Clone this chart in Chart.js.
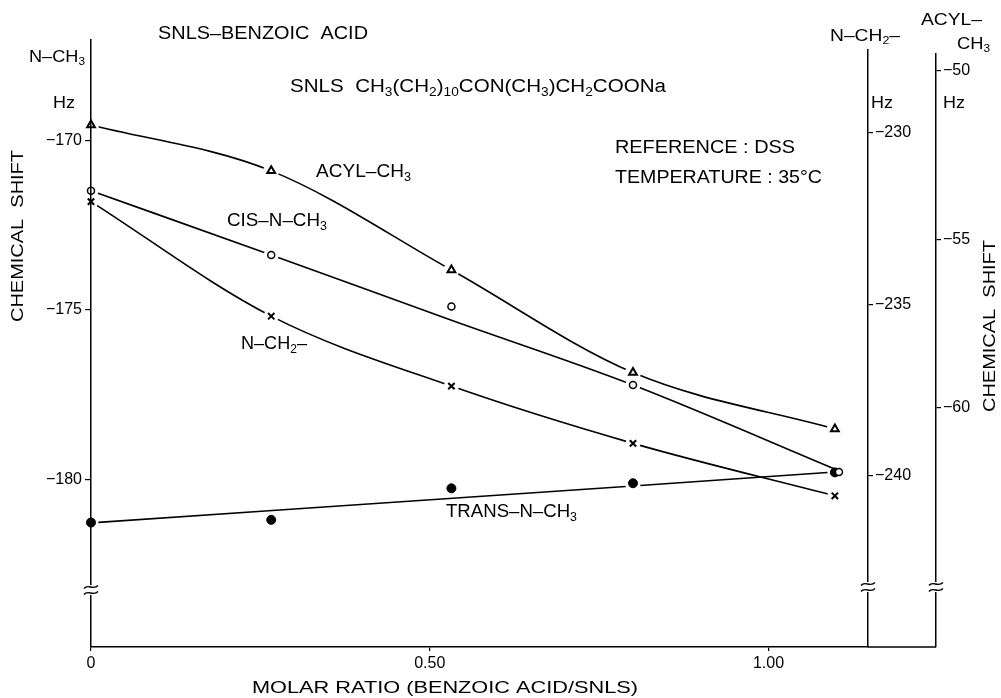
<!DOCTYPE html>
<html><head><meta charset="utf-8">
<script src="https://cdn.jsdelivr.net/npm/chart.js@4.4.0/dist/chart.umd.min.js"></script>
<style>html,body{margin:0;padding:0;background:#fff;}</style>
</head><body>
<canvas id="c" width="1001" height="698"></canvas>
<script>
// ---- data ----
const molarRatio = [0, 0.266, 0.532, 0.800, 1.098];
const cisX = [0, 0.266, 0.532, 0.800, 1.104];
const acylCH3 = [-51.61, -52.97, -55.91, -58.95, -60.62];      // ACYL-CH3 axis (Hz)
const cisNCH3 = [-171.48, -173.38, -174.90, -177.21, -179.78];  // N-CH3 axis (Hz)
const cisNCH3Curve = [-171.48, -173.38, -175.30, -177.21, -179.74];
const nCH2 = [-232.01, -235.35, -237.39, -239.06, -240.59];     // N-CH2 axis (Hz)
const transNCH3 = [-181.27, -181.19, -180.26, -180.11, -179.79];// N-CH3 axis (Hz)
const transLineX = [0, 0.800, 1.098];
const transLineY = [-181.28, -180.19, -179.78];
const xTicks = [0, 0.5, 1.0];
const nch3Ticks = [-170, -175, -180];
const nch2Ticks = [-230, -235, -240];
const acylTicks = [-50, -55, -60];

const pts = (xs, ys) => xs.map((x, i) => ({x: x, y: ys[i]}));
const FONT = '"Liberation Sans", Arial, sans-serif';
const fmtNeg = v => '\u2212' + Math.abs(v);

// line dataset; its own white points cut the small gaps round the markers
function lineDS(data, axis, gap) {
  return {data, yAxisID: axis, showLine: true, borderColor: '#000', borderWidth: 1.6,
    cubicInterpolationMode: 'monotone', order: 3, clip: false,
    pointRadius: gap, pointBackgroundColor: '#fff', pointBorderWidth: 0, pointBorderColor: '#fff'};
}
function markDS(data, axis, style, r, bw, fill) {
  return {data, yAxisID: axis, showLine: false, pointStyle: style, pointRadius: r,
    pointBorderWidth: bw, pointBorderColor: '#000', pointBackgroundColor: fill, order: 1, clip: false};
}

function rich(ctx, x, y, parts, size, align, targetW) {
  const big = size + 'px ' + FONT, small = Math.round(size * 0.64) + 'px ' + FONT;
  let w = 0;
  parts.forEach(p => { ctx.font = p[1] ? small : big; w += ctx.measureText(p[0]).width; });
  const sx = targetW ? targetW / w : 1;
  const tw = w * sx;
  const x0 = align === 'center' ? x - tw / 2 : x;
  ctx.save();
  ctx.translate(x0, y); ctx.scale(sx, 1);
  ctx.textBaseline = 'middle'; ctx.textAlign = 'left'; ctx.fillStyle = '#000';
  let cx = 0;
  parts.forEach(p => {
    ctx.font = p[1] ? small : big;
    ctx.fillText(p[0], cx, p[1] ? size * 0.3 : 0);
    cx += ctx.measureText(p[0]).width;
  });
  ctx.restore();
}
function brk(ctx, x, y) {
  ctx.save();
  ctx.fillStyle = '#fff'; ctx.fillRect(x - 3, y - 5, 6, 10);
  ctx.strokeStyle = '#000'; ctx.lineWidth = 1.4;
  [-3, 3].forEach(d => {
    ctx.beginPath();
    ctx.moveTo(x - 7, y + d + 1.5);
    ctx.bezierCurveTo(x - 3, y + d - 4, x + 2, y + d + 4, x + 7, y + d - 1.5);
    ctx.stroke();
  });
  ctx.restore();
}

const annot = {
  id: 'annot',
  afterDraw(chart) {
    const ctx = chart.ctx, ca = chart.chartArea, s = chart.scales;
    ctx.save();
    ctx.strokeStyle = '#000'; ctx.lineWidth = 1.5;
    ctx.beginPath(); ctx.moveTo(ca.right, ca.bottom); ctx.lineTo(s.y3.left, ca.bottom); ctx.stroke();
    ctx.fillStyle = '#fff';
    ctx.fillRect(s.y2.left - 3, ca.top - 1, 6, 10);
    ctx.fillRect(s.y3.left - 3, ca.top - 1, 6, 14);
    brk(ctx, s.x.left, 590); brk(ctx, s.y2.left, 587); brk(ctx, s.y3.left, 587);

    rich(ctx, 158, 34, [['SNLS\u2013BENZOIC  ACID', 0]], 19, 'left', 210);
    rich(ctx, 29, 57, [['N\u2013CH', 0], ['3', 1]], 17, 'left', 56);
    rich(ctx, 53, 103, [['Hz', 0]], 17, 'left', 22);
    rich(ctx, 290, 87, [['SNLS  CH', 0], ['3', 1], ['(CH', 0], ['2', 1], [')', 0], ['10', 1],
      ['CON(CH', 0], ['3', 1], [')CH', 0], ['2', 1], ['COONa', 0]], 18, 'left', 376);
    rich(ctx, 316, 172, [['ACYL\u2013CH', 0], ['3', 1]], 18, 'left', 95);
    rich(ctx, 227, 221, [['CIS\u2013N\u2013CH', 0], ['3', 1]], 18, 'left', 100);
    rich(ctx, 241, 344, [['N\u2013CH', 0], ['2', 1], ['\u2013', 0]], 18, 'left', 66);
    rich(ctx, 446, 512, [['TRANS\u2013N\u2013CH', 0], ['3', 1]], 18, 'left', 131);
    rich(ctx, 615, 148, [['REFERENCE : DSS', 0]], 18, 'left', 180);
    rich(ctx, 615, 178, [['TEMPERATURE : 35\u00b0C', 0]], 18, 'left', 207);
    rich(ctx, 830, 36, [['N\u2013CH', 0], ['2', 1], ['\u2013', 0]], 17, 'left', 70);
    rich(ctx, 921, 20, [['ACYL\u2013', 0]], 17, 'left', 61);
    rich(ctx, 957, 44, [['CH', 0], ['3', 1]], 17, 'left', 33);
    rich(ctx, 871, 103, [['Hz', 0]], 17, 'left', 22);
    rich(ctx, 943, 103, [['Hz', 0]], 17, 'left', 22);
    rich(ctx, 445, 688, [['MOLAR RATIO (BENZOIC ACID/SNLS)', 0]], 17, 'center', 386);
    ctx.save(); ctx.translate(18, 236); ctx.rotate(-Math.PI / 2);
    rich(ctx, 0, 0, [['CHEMICAL  SHIFT', 0]], 17, 'center', 172); ctx.restore();
    ctx.save(); ctx.translate(990, 326); ctx.rotate(-Math.PI / 2);
    rich(ctx, 0, 0, [['CHEMICAL  SHIFT', 0]], 17, 'center', 172); ctx.restore();
    ctx.restore();
  }
};

const tickFont = {family: FONT, size: 16};
new Chart(document.getElementById('c'), {
  type: 'scatter',
  data: {datasets: [
    markDS(pts(molarRatio, acylCH3), 'y3', 'triangle', 4.5, 2, '#fff'),
    markDS(pts(cisX, cisNCH3), 'y', 'circle', 3.5, 1.5, '#fff'),
    markDS(pts(molarRatio, nCH2), 'y2', 'crossRot', 4.5, 2, '#000'),
    markDS(pts(molarRatio, transNCH3), 'y', 'circle', 4.5, 1, '#000'),
    lineDS(pts(molarRatio, acylCH3), 'y3', 8),
    lineDS(pts(cisX, cisNCH3Curve), 'y', [7.5, 7.5, 0, 7.5, 6]),
    lineDS(pts(molarRatio, nCH2), 'y2', 7.5),
    lineDS(pts(transLineX, transLineY), 'y', 7.5)
  ]},
  options: {
    responsive: false, animation: false, devicePixelRatio: 1,
    layout: {padding: {top: 40, left: 0, right: 0, bottom: 0}},
    plugins: {legend: {display: false}, tooltip: {enabled: false}},
    scales: {
      x: {type: 'linear', position: 'bottom', min: 0, max: 1.1469,
        afterBuildTicks: s => { s.ticks = xTicks.map(v => ({value: v})); },
        afterFit: s => { s.height = 51; },
        grid: {drawOnChartArea: false, drawTicks: true, tickLength: 4, color: '#000', lineWidth: 1.2},
        border: {display: true, color: '#000', width: 1.5, z: 1},
        ticks: {font: tickFont, color: '#000', padding: 3, maxRotation: 0,
          callback: v => v === 0 ? '0' : v.toFixed(2)}},
      y: {type: 'linear', position: 'left', min: -184.941, max: -167.035,
        afterBuildTicks: s => { s.ticks = nch3Ticks.map(v => ({value: v})); },
        afterFit: s => { s.width = 91; },
        grid: {drawOnChartArea: false, drawTicks: true, tickLength: 6, color: '#000', lineWidth: 1.2},
        border: {display: true, color: '#000', width: 1.5, z: 1},
        ticks: {font: tickFont, color: '#000', padding: 3, callback: fmtNeg}},
      y2: {type: 'linear', position: 'right', weight: 0, min: -244.998, max: -227.297,
        afterBuildTicks: s => { s.ticks = nch2Ticks.map(v => ({value: v})); },
        afterFit: s => { s.width = 68; },
        grid: {drawOnChartArea: false, drawTicks: true, tickLength: 5, color: '#000', lineWidth: 1.2},
        border: {display: true, color: '#000', width: 1.5, z: 1},
        ticks: {font: tickFont, color: '#000', padding: 2, callback: fmtNeg}},
      y3: {type: 'linear', position: 'right', weight: 1, min: -67.086, max: -49.090,
        afterBuildTicks: s => { s.ticks = acylTicks.map(v => ({value: v})); },
        afterFit: s => { s.width = 65; },
        grid: {drawOnChartArea: false, drawTicks: true, tickLength: 5, color: '#000', lineWidth: 1.2},
        border: {display: true, color: '#000', width: 1.5, z: 1},
        ticks: {font: tickFont, color: '#000', padding: 2, callback: fmtNeg}}
    }
  },
  plugins: [annot]
});
</script>
</body></html>
